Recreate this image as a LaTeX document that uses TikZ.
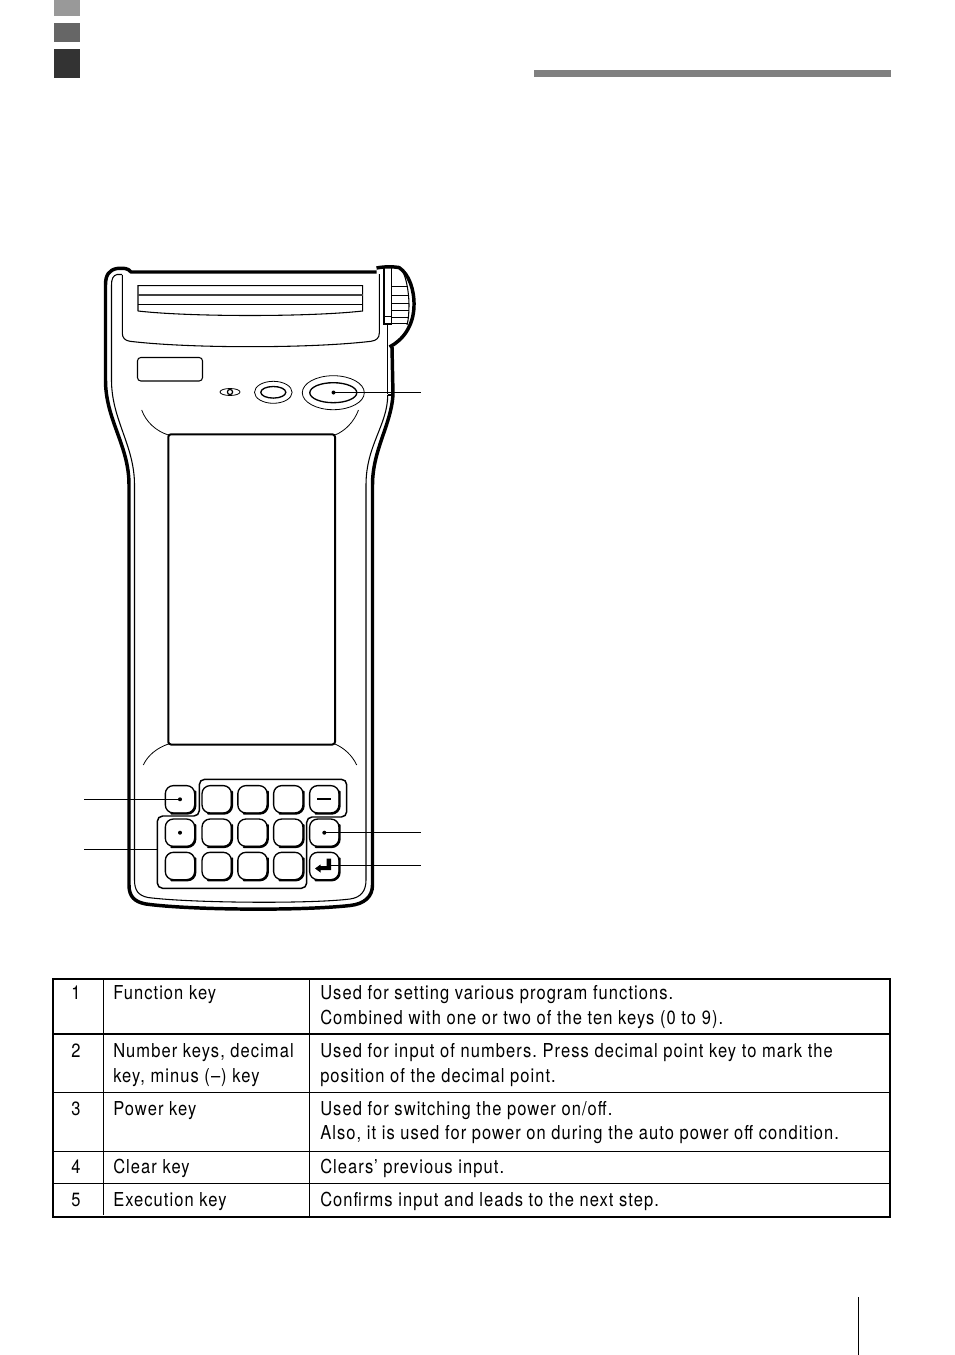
\documentclass[tikz,border=0pt]{standalone}
\usepackage{fontspec}
\setmainfont[FakeStretch=0.86,LetterSpace=5.5]{TeX Gyre Heros}
\frenchspacing
\tikzset{
  x=0.75pt,y=-0.75pt,
  hair/.style={line width=0.6pt,black},
  thin line/.style={line width=0.8pt,black},
  heavy/.style={line width=2pt,black,line join=round},
  leader/.style={line width=1.1pt,black},
  keybox/.style={draw=black,line width=1pt,rounded corners=6pt,minimum width=22pt,minimum height=20.5pt,inner sep=0pt,fill=white},
  dotmark/.style={circle,fill=black,inner sep=0pt,minimum size=3pt},
  rule/.style={line width=0.8pt,black},
  frame/.style={line width=1.5pt,black},
  cell/.style={anchor=base west,inner sep=0pt,font=\fontsize{14.4pt}{16pt}\selectfont},
  num/.style={anchor=base,inner sep=0pt,font=\fontsize{14.4pt}{16pt}\selectfont},
}
\newcommand{\keyat}[3]{%
  \node[keybox] (#1) at (#2,#3) {};
  \draw[line width=1.6pt,rounded corners=6pt,line cap=round] ([yshift=-5pt]#1.north east) -- (#1.south east) -- ([xshift=5pt]#1.south west);
}
\begin{document}
\begin{tikzpicture}
\useasboundingbox (0,0) rectangle (954,1355);
% header marks
\fill[fill=black!40] (54,0) rectangle (80,16);
\fill[fill=black!60] (54,23) rectangle (80,42);
\fill[fill=black!80] (54,49) rectangle (80,78);
\fill[fill=black!50] (534,70) rectangle (891,77);
\draw[line width=0.7pt,black] (858,1297) -- (858,1355);
% knob
\draw[heavy,line width=2.6pt] (376.5,268) .. controls (385,266.5) and (392,266.5) .. (399,267.5)
  .. controls (409,274) and (414.5,290) .. (414,306)
  .. controls (413.5,326) and (403,340) .. (389.5,347);
\draw[thin line] (384,268) -- (384,324) -- (391.7,324) -- (391.7,268);
\draw[hair] (384,316) -- (391.7,316);
\foreach \yy/\xx in {286.7/407,295/408.5,303/409,310/409,317/409,323/408}{\draw[hair] (391.7,\yy) -- (\xx,\yy);}
\draw[thin line] (403,272) .. controls (407,280) and (409,295) .. (409,305) .. controls (409,312) and (408.5,320) .. (407,325);
% case outer
\draw[heavy,line width=2.6pt] (376.5,272) -- (131,272) .. controls (128,268) and (124,268) .. (117,268.5)
  .. controls (109,270) and (105.5,275) .. (105.5,285) -- (105.5,380)
  .. controls (105.5,420) and (129,445) .. (129,485) -- (129,885)
  .. controls (129,897) and (135,902) .. (146,904)
  .. controls (190,910) and (300,911) .. (350,905.5)
  .. controls (364,904) and (372.5,897) .. (372.5,885) -- (372.5,485)
  .. controls (372.5,450) and (391,425) .. (393,395) -- (392,347);
\draw[thin line] (387.7,324) -- (387.7,394);
\draw[thin line] (387.7,395) -- (393.5,395);
% case inner
\draw[thin line] (122,274.5) -- (117,274.5) .. controls (113,275.5) and (111.5,279) .. (111.5,285) -- (111.5,380)
  .. controls (111.5,420) and (134.5,445) .. (134.5,485) -- (134.5,880)
  .. controls (134.5,890) and (138,895.5) .. (148,897.5)
  .. controls (190,903) and (310,904) .. (350,899)
  .. controls (361,897.5) and (366,891) .. (366,880) -- (366,485)
  .. controls (366,445) and (387.7,425) .. (387.7,395);
% printer cover
\draw[thin line] (122.3,275) -- (122.3,333) .. controls (122.3,338) and (125,340.5) .. (130,341.3)
  .. controls (190,348.5) and (310,348.5) .. (371,341.3) .. controls (376.5,340.5) and (379.3,338) .. (379.3,333) -- (379.3,274);
% paper slot
\draw[thin line] (138,311) -- (138,285.7) -- (362.6,285.7) -- (362.6,311) .. controls (310,317) and (190,317) .. (138,311);
\draw[line width=1pt,black!75] (138,295) -- (362.6,295);
\draw[thin line] (138,304.4) -- (362.6,304.4);
% indicators
\draw[thin line,rounded corners=2.5pt] (137.5,357.5) rectangle (202.5,381);
\draw[hair] (230,392) ellipse [x radius=10,y radius=3.5];
\draw[line width=0.9pt,fill=white] (230,392) circle [radius=2.6];
\draw[hair] (273.3,392.3) ellipse [x radius=18.8,y radius=11];
\draw[line width=1pt] (273.3,392.3) ellipse [x radius=12.5,y radius=5.8];
\draw[hair] (333.3,392.7) ellipse [x radius=31,y radius=17];
\draw[line width=1pt] (333.3,392.7) ellipse [x radius=23.5,y radius=10];
\node[dotmark] (power) at (333.5,392.5) {};
\coordinate (powerEnd) at (421,392.5);
\draw[leader] (power.center) -- (powerEnd);
% screen
\draw[line width=1.5pt,rounded corners=2pt] (168.3,434.3) rectangle (335,744.5);
\draw[hair] (141.7,410) .. controls (146,422) and (156,431) .. (168.3,435);
\draw[hair] (358.5,410) .. controls (354,422) and (345,431) .. (335,435);
\draw[hair] (143.3,765) .. controls (148,755) and (157,748) .. (168.3,744);
\draw[hair] (356.7,765) .. controls (352,755) and (344,748) .. (335,744);
% key group outline
\draw[line width=1.1pt,rounded corners=4pt] (199.3,800) -- (199.3,779.3) -- (346.7,779.3) -- (346.7,817) -- (306.7,817) -- (306.7,888.3) -- (157.3,888.3) -- (157.3,816) -- (199.3,816) -- cycle;
% keys
\keyat{kf}{180}{799.3}
\keyat{ka}{216.7}{799.3}
\keyat{kb}{252.5}{799.3}
\keyat{kc}{288.3}{799.3}
\keyat{kminus}{324.3}{799.3}
\keyat{kdec}{180}{832.7}
\keyat{kd}{216.7}{832.7}
\keyat{ke}{252.5}{832.7}
\keyat{kg}{288.3}{832.7}
\keyat{kclear}{324.3}{832.7}
\keyat{kh}{180}{866}
\keyat{ki}{216.7}{866}
\keyat{kj}{252.5}{866}
\keyat{kk}{288.3}{866}
\keyat{kexec}{324.3}{866}
\draw[line width=1.4pt] (317.3,799.3) -- (331,799.3);
\node[dotmark] (dotdec) at (180,832.7) {};
\node[dotmark] (dotfunc) at (180,799.3) {};
\node[dotmark] (dotclear) at (324.3,832.7) {};
\fill[black] (315,868.5) -- (320.5,864.5) -- (320.5,866) -- (326.5,866) -- (326.5,858.5) -- (331,858.5) -- (331,870) -- (320.5,870) -- (320.5,872.5) -- cycle;
\coordinate (execStart) at (328,865.7);
\coordinate (execEnd) at (421,865.7);
\draw[leader] (execStart) -- (execEnd);
\coordinate (funcEnd) at (84,799.3);
\draw[leader] (dotfunc.center) -- (funcEnd);
\coordinate (clearEnd) at (421,832.7);
\draw[leader] (dotclear.center) -- (clearEnd);
\coordinate (numEnd) at (84,849.7);
\coordinate (numStart) at (157.3,849.7);
\draw[leader] (numEnd) -- (numStart);
% table
\draw[frame] (53,979) rectangle (890,1217);
\draw[rule] (53,1034) -- (890,1034);
\draw[rule] (53,1092.3) -- (890,1092.3);
\draw[rule] (53,1151.3) -- (890,1151.3);
\draw[rule] (53,1183.3) -- (890,1183.3);
\draw[rule] (103.3,979) -- (103.3,1215);
\draw[rule] (309.4,979) -- (309.4,1217);
\node[num] (n1) at (76,999.7) {1};
\node[num] (n2) at (76,1057) {2};
\node[num] (n3) at (76,1115.4) {3};
\node[num] (n4) at (76,1173.7) {4};
\node[num] (n5) at (76,1206.4) {5};
\node[cell] (a1) at (113,999.7) {Function key};
\node[cell] (a2) at (113,1057) {Number keys, decimal};
\node[cell] (a2b) at (113,1082.6) {key, minus (–) key};
\node[cell] (a3) at (113,1115.4) {Power key};
\node[cell] (a4) at (113,1173.7) {Clear key};
\node[cell] (a5) at (113,1206.4) {Execution key};
\node[cell] (b1) at (320,999.7) {Used for setting various program functions.};
\node[cell] (b1b) at (320,1024.7) {Combined with one or two of the ten keys (0 to 9).};
\node[cell] (b2) at (320,1057) {Used for input of numbers. Press decimal point key to mark the};
\node[cell] (b2b) at (320,1082.6) {position of the decimal point.};
\node[cell] (b3) at (320,1115.4) {Used for switching the power on/off.};
\node[cell] (b3b) at (320,1139.7) {Also, it is used for power on during the auto power off condition.};
\node[cell] (b4) at (320,1173.7) {Clears’ previous input.};
\node[cell] (b5) at (320,1206.4) {Confirms input and leads to the next step.};
\end{tikzpicture}
\end{document}
